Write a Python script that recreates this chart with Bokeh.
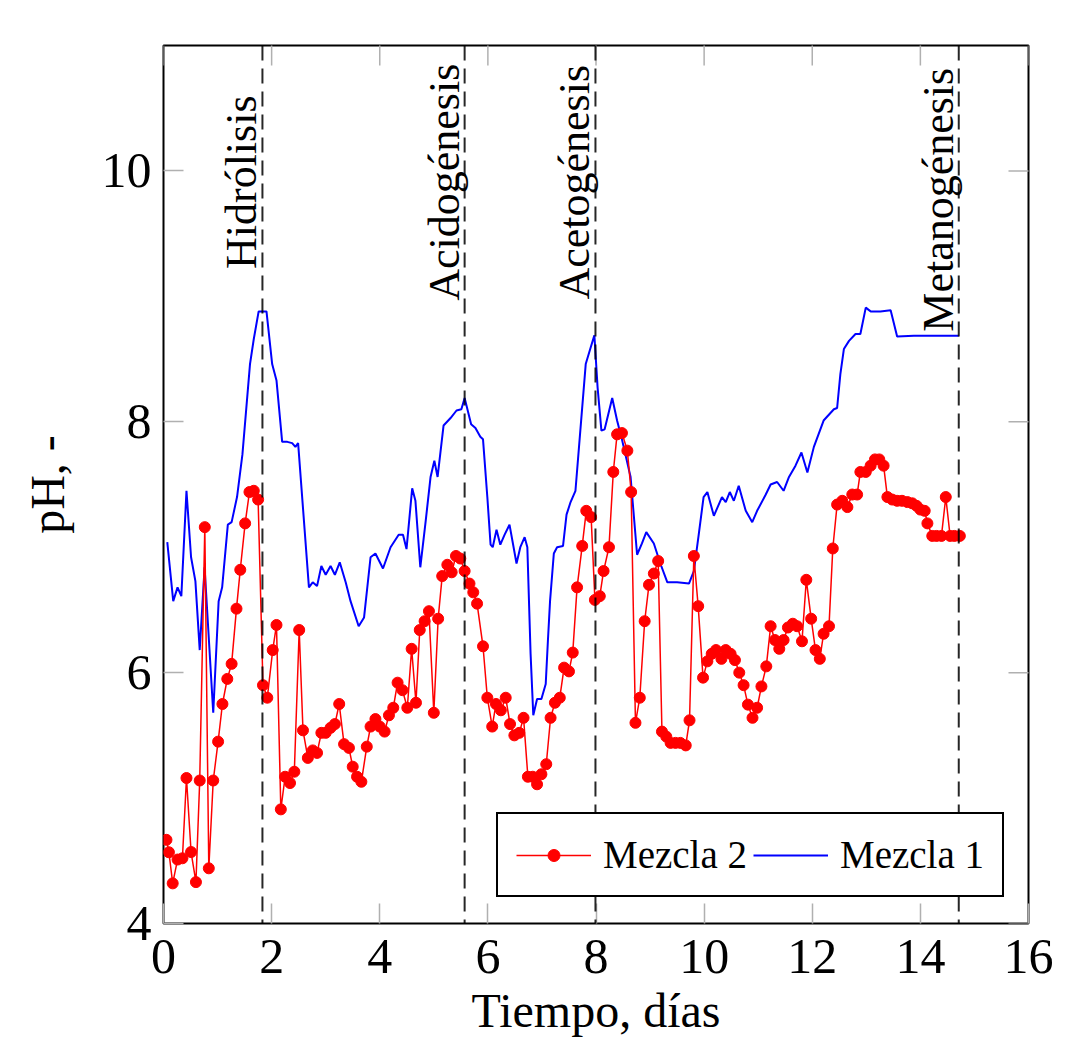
import math
from bokeh.plotting import figure
from bokeh.models import (Range1d, FixedTicker, Legend, LegendItem,
                          Span, ColumnDataSource)
from bokeh.core.properties import value
from bokeh.embed import file_html
from bokeh.resources import INLINE

# ---------------- data ----------------
red_x = [0.055, 0.10, 0.17, 0.26, 0.35, 0.425, 0.51, 0.60, 0.67, 0.764,
         0.838, 0.92, 1.01, 1.09, 1.18, 1.26, 1.35, 1.42, 1.51, 1.59,
         1.67, 1.75, 1.84, 1.92, 2.02, 2.09, 2.17, 2.25, 2.34, 2.42,
         2.51, 2.58, 2.67, 2.76, 2.84, 2.92, 3.00, 3.09, 3.17, 3.25,
         3.34, 3.43, 3.50, 3.58, 3.66, 3.76, 3.83, 3.92, 4.00, 4.09,
         4.17, 4.25, 4.33, 4.42, 4.51, 4.59, 4.67, 4.74, 4.83, 4.91,
         5.00, 5.08, 5.155, 5.25, 5.33, 5.41, 5.49, 5.57, 5.66, 5.73,
         5.80, 5.91, 5.99, 6.08, 6.15, 6.24, 6.33, 6.41, 6.49, 6.58,
         6.66, 6.74, 6.83, 6.91, 6.99, 7.08, 7.16, 7.24, 7.33, 7.41,
         7.50, 7.57, 7.65, 7.745, 7.82, 7.91, 7.98, 8.07, 8.14, 8.24,
         8.32, 8.39, 8.48, 8.58, 8.65, 8.73, 8.81, 8.90, 8.98, 9.07,
         9.15, 9.22, 9.30, 9.38, 9.47, 9.56, 9.66, 9.73, 9.81, 9.89,
         9.98, 10.06, 10.14, 10.22, 10.32, 10.40, 10.49, 10.57, 10.65, 10.73,
         10.81, 10.895, 10.98, 11.06, 11.15, 11.23, 11.31, 11.39, 11.47, 11.55,
         11.64, 11.72, 11.81, 11.89, 11.98, 12.06, 12.14, 12.21, 12.31, 12.38,
         12.46, 12.555, 12.65, 12.74, 12.83, 12.89, 12.99, 13.08, 13.16, 13.24,
         13.32, 13.39, 13.48, 13.57, 13.66, 13.76, 13.85, 13.93, 14.00, 14.08,
         14.13, 14.22, 14.30, 14.39, 14.47, 14.55, 14.63, 14.73]
red_y = [4.667, 4.568, 4.32, 4.51, 4.52, 5.16, 4.57, 4.33, 5.14, 7.16,
         4.44, 5.14, 5.45, 5.75, 5.95, 6.07, 6.51, 6.82, 7.19, 7.44,
         7.45, 7.38, 5.90, 5.80, 6.18, 6.38, 4.91, 5.17, 5.12, 5.21,
         6.34, 5.54, 5.32, 5.38, 5.36, 5.52, 5.52, 5.56, 5.59, 5.75,
         5.43, 5.40, 5.25, 5.17, 5.13, 5.41, 5.57, 5.63, 5.57, 5.53,
         5.66, 5.72, 5.92, 5.86, 5.72, 6.19, 5.76, 6.34, 6.41, 6.49,
         5.68, 6.43, 6.77, 6.86, 6.80, 6.93, 6.91, 6.81, 6.71, 6.64,
         6.55, 6.21, 5.80, 5.57, 5.75, 5.70, 5.80, 5.59, 5.50, 5.52,
         5.64, 5.17, 5.17, 5.11, 5.19, 5.27, 5.64, 5.76, 5.80, 6.04,
         6.01, 6.16, 6.68, 7.01, 7.29, 7.24, 6.58, 6.61, 6.81, 7.00,
         7.60, 7.90, 7.91, 7.77, 7.44, 5.60, 5.80, 6.41, 6.70, 6.79,
         6.89, 5.53, 5.49, 5.44, 5.44, 5.44, 5.42, 5.62, 6.93, 6.53,
         5.96, 6.09, 6.15, 6.18, 6.11, 6.18, 6.15, 6.10, 6.00, 5.90,
         5.745, 5.64, 5.72, 5.89, 6.05, 6.37, 6.26, 6.19, 6.26, 6.36,
         6.39, 6.37, 6.25, 6.74, 6.43, 6.18, 6.11, 6.31, 6.37, 6.99,
         7.34, 7.37, 7.32, 7.42, 7.42, 7.60, 7.60, 7.65, 7.70, 7.70,
         7.65, 7.40, 7.38, 7.37, 7.37, 7.36, 7.35, 7.33, 7.30, 7.29,
         7.19, 7.09, 7.09, 7.09, 7.40, 7.09, 7.09, 7.09]

blue_x = [0.07, 0.18, 0.26, 0.33, 0.425, 0.51, 0.59, 0.67, 0.76, 0.92,
          1.02, 1.085, 1.19, 1.26, 1.36, 1.46, 1.60, 1.67, 1.76, 1.905,
          2.01, 2.09, 2.195, 2.29, 2.38, 2.44, 2.49, 2.69, 2.76, 2.84,
          2.92, 3.00, 3.09, 3.17, 3.26, 3.37, 3.46, 3.61, 3.71, 3.83,
          3.92, 4.06, 4.20, 4.35, 4.43, 4.495, 4.60, 4.66, 4.75, 4.85,
          4.94, 5.01, 5.07, 5.18, 5.31, 5.42, 5.51, 5.57, 5.69, 5.77,
          5.86, 5.91, 5.99, 6.05, 6.09, 6.16, 6.23, 6.31, 6.40, 6.53,
          6.60, 6.68, 6.73, 6.79, 6.84, 6.91, 6.99, 7.07, 7.11, 7.15,
          7.22, 7.28, 7.39, 7.455, 7.53, 7.62, 7.71, 7.81, 7.90, 7.97,
          8.03, 8.10, 8.16, 8.30, 8.39, 8.485, 8.64, 8.76, 8.85, 8.93,
          9.07, 9.19, 9.32, 9.50, 9.72, 9.81, 9.90, 9.99, 10.06, 10.11,
          10.18, 10.25, 10.33, 10.40, 10.475, 10.55, 10.64, 10.77, 10.89, 10.98,
          11.14, 11.23, 11.35, 11.47, 11.57, 11.69, 11.80, 11.91, 12.03, 12.21,
          12.40, 12.46, 12.52, 12.585, 12.68, 12.80, 12.89, 12.99, 13.08, 13.26,
          13.45, 13.57, 13.88, 14.71]
blue_y = [7.04, 6.57, 6.68, 6.61, 7.45, 6.92, 6.73, 6.18, 6.84, 5.68,
          6.57, 6.68, 7.18, 7.20, 7.40, 7.74, 8.46, 8.66, 8.88, 8.88,
          8.46, 8.33, 7.84, 7.84, 7.83, 7.80, 7.83, 6.68, 6.72, 6.69,
          6.85, 6.78, 6.85, 6.78, 6.88, 6.72, 6.57, 6.37, 6.44, 6.92,
          6.95, 6.83, 7.00, 7.10, 7.10, 6.985, 7.47, 7.37, 6.84, 7.21,
          7.56, 7.69, 7.56, 7.97, 8.03, 8.09, 8.10, 8.19, 7.98, 7.95,
          7.88, 7.86, 7.40, 7.02, 7.00, 7.14, 7.02, 7.10, 7.18, 6.87,
          7.00, 7.08, 7.00, 6.15, 5.66, 5.79, 5.79, 5.91, 6.25, 6.57,
          6.95, 7.00, 7.01, 7.26, 7.36, 7.45, 7.93, 8.46, 8.59, 8.69,
          8.27, 7.93, 7.94, 8.19, 8.01, 7.85, 7.56, 6.94, 7.03, 7.12,
          7.03, 6.87, 6.72, 6.72, 6.71, 6.81, 7.10, 7.40, 7.44, 7.36,
          7.25, 7.32, 7.40, 7.36, 7.44, 7.37, 7.49, 7.29, 7.20, 7.29,
          7.42, 7.50, 7.52, 7.45, 7.56, 7.65, 7.755, 7.595, 7.80, 8.01,
          8.10, 8.11, 8.38, 8.58, 8.645, 8.70, 8.70, 8.91, 8.88, 8.88,
          8.89, 8.68, 8.685, 8.685]

phase_x = [1.83, 5.57, 7.99, 14.71]
phase_names = ["Hidrólisis", "Acidogénesis", "Acetogénesis", "Metanogénesis"]
phase_label_y = [9.91, 9.91, 9.91, 9.77]

x_ticks = [0, 2, 4, 6, 8, 10, 12, 14, 16]
y_ticks = [4, 6, 8, 10]
x_min, x_max = 0, 16
y_min, y_max = 4, 11

series_labels = ["Mezcla 2", "Mezcla 1"]

# ---------------- figure ----------------
SERIF = "Liberation Serif"
TICK_GRAY = "#b0b0b0"

p = figure(width=1085, height=1048,
           x_range=Range1d(x_min, x_max), y_range=Range1d(y_min, y_max),
           output_backend="svg", toolbar_location=None,
           min_border_left=163, min_border_right=57,
           min_border_top=45, min_border_bottom=125,
           x_axis_label="Tiempo, días", y_axis_label="pH, -")
p.grid.visible = False
p.background_fill_color = "white"
p.border_fill_color = "white"
p.outline_line_color = "black"
p.outline_line_width = 2
p.outline_line_alpha = 1.0

p.xaxis.ticker = FixedTicker(ticks=x_ticks)
p.yaxis.ticker = FixedTicker(ticks=y_ticks)

for ax in (p.xaxis[0], p.yaxis[0]):
    ax.axis_line_color = None
    ax.major_tick_in = 20
    ax.major_tick_out = 0
    ax.major_tick_line_color = TICK_GRAY
    ax.major_tick_line_width = 1.5
    ax.minor_tick_line_color = None
    ax.major_label_text_font = SERIF
    ax.major_label_text_font_size = "50px"
    ax.major_label_text_color = "black"
    ax.axis_label_text_font = SERIF
    ax.axis_label_text_font_size = "48px"
    ax.axis_label_text_font_style = "normal"
    ax.axis_label_text_color = "black"

p.xaxis.major_label_standoff = 16
p.xaxis.axis_label_standoff = 8
p.yaxis.major_label_standoff = 12
p.yaxis.axis_label_standoff = 25

# mirrored tick marks on the top and right edges (clipped to the frame)
p.scatter(x=x_ticks, y=[y_max] * len(x_ticks), marker="dash", size=40, angle=math.pi / 2,
          line_color=TICK_GRAY, line_width=1.5)
p.scatter(x=[x_max] * len(y_ticks), y=y_ticks, marker="dash", size=40,
          line_color=TICK_GRAY, line_width=1.5)

# ---------------- data marks ----------------
red_src = ColumnDataSource(dict(x=red_x, y=red_y))
blue_src = ColumnDataSource(dict(x=blue_x, y=blue_y))

blue_line = p.line("x", "y", source=blue_src, line_color="#0000ff", line_width=2)
red_line = p.line("x", "y", source=red_src, line_color="#ff0000", line_width=1.5)
red_pts = p.scatter("x", "y", source=red_src, size=11, fill_color="#ff0000",
                    line_color="#ff0000", marker="circle")

# phase dashed lines
for xv in phase_x:
    p.add_layout(Span(location=xv, dimension="height", line_color="black",
                      line_width=2, line_dash="15 8", line_alpha=0.85))

phase_src = ColumnDataSource(dict(x=phase_x, y=phase_label_y, t=phase_names))
p.text("x", "y", text="t", source=phase_src, angle=math.pi / 2,
       text_align="center", text_baseline="bottom", x_offset=4,
       text_font=value(SERIF), text_font_size="44px", text_color="black")

# ---------------- legend ----------------
legend = Legend(items=[LegendItem(label=series_labels[0], renderers=[red_line, red_pts]),
                       LegendItem(label=series_labels[1], renderers=[blue_line])],
                orientation="horizontal", location=(333, 26),
                border_line_color="black", border_line_width=2, border_line_alpha=1.0,
                background_fill_color="white", background_fill_alpha=1.0,
                label_text_font=SERIF, label_text_font_size="39px",
                label_text_color="black",
                glyph_width=75, glyph_height=30, label_standoff=12,
                spacing=6, padding=18, margin=0)
p.add_layout(legend)

open("out.html", "w").write(file_html(p, INLINE))
